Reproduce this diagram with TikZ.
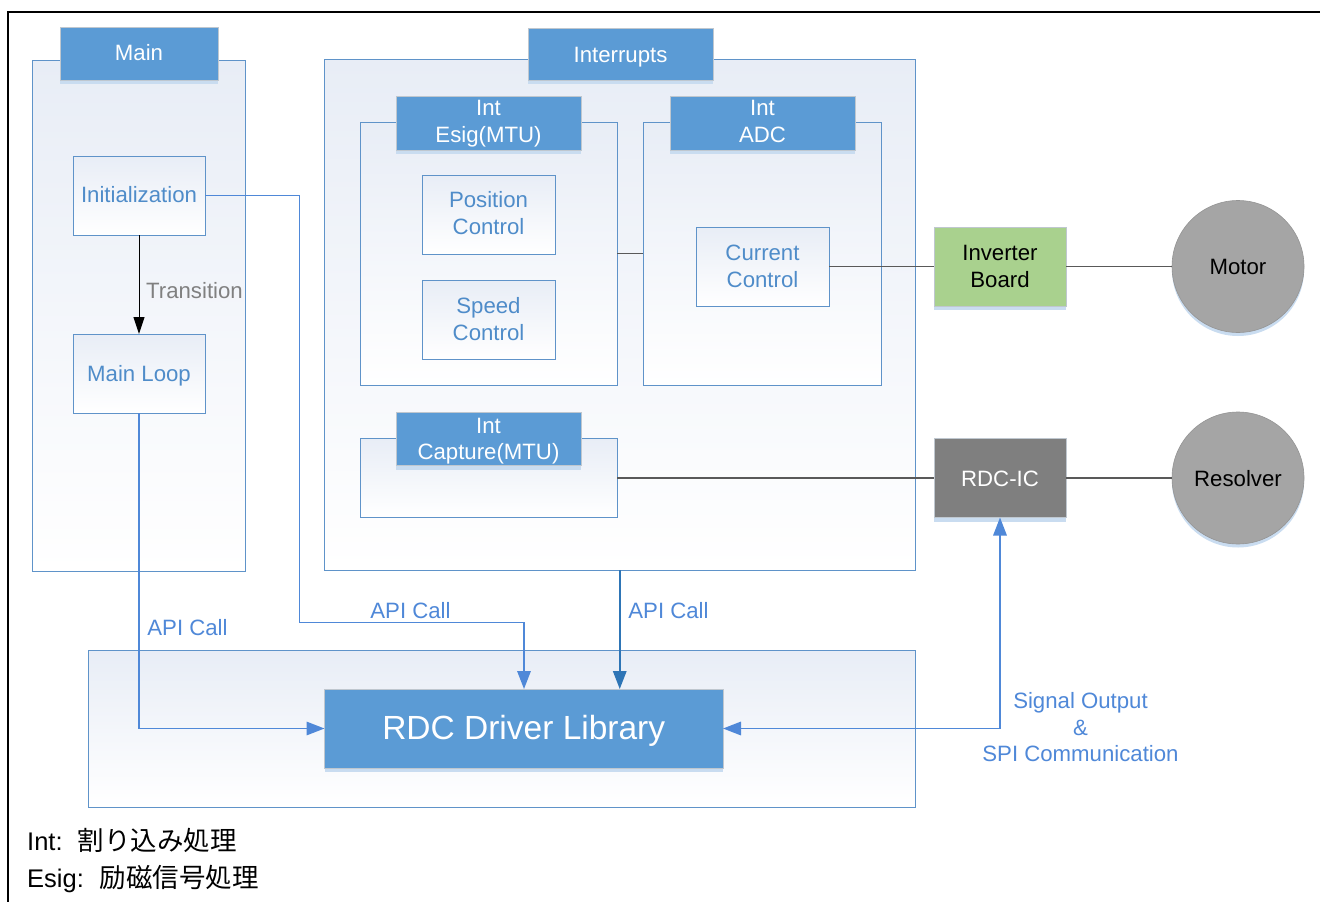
\documentclass[tikz,border=0pt]{standalone}
\usepackage{fontspec}
\setmainfont{Liberation Sans}
\newfontfamily\cjk{Noto Sans CJK JP}
\usetikzlibrary{arrows.meta,shadows,calc}
\definecolor{hdrblue}{HTML}{5B9BD5}
\definecolor{shadowblue}{HTML}{C9DCF0}
\definecolor{boxline}{HTML}{5F93C9}
\definecolor{gradtop}{HTML}{E8EDF6}
\definecolor{labelblue}{HTML}{4F88D8}
\definecolor{innertext}{HTML}{4F8CC9}
\definecolor{darkarrow}{HTML}{2E75B6}
\definecolor{invgreen}{HTML}{A9D18E}
\definecolor{rdcgray}{HTML}{7F7F7F}
\definecolor{motorgray}{HTML}{A5A5A5}
\definecolor{edgegray}{HTML}{BFC7CF}
\definecolor{wireline}{HTML}{595959}
% text with its last baseline placed at a given distance from the node centre
\newcommand{\tx}[2]{\raisebox{#1}[0pt][0pt]{\begin{tabular}[b]{@{}c@{}}#2\end{tabular}}}
\tikzset{
  boxfont/.style={font=\fontsize{22.2}{26.5}\selectfont},
  outerbox/.style={draw=boxline,line width=1pt,top color=gradtop,bottom color=white,inner sep=0pt,outer sep=0pt},
  innerbox/.style={outerbox,text=innertext,boxfont},
  softshadow/.style={general shadow={shadow xshift=0pt,shadow yshift=-4pt,fill=shadowblue}},
  header/.style={draw=edgegray,line width=1pt,fill=hdrblue,text=white,boxfont,inner sep=0pt,outer sep=0pt,softshadow},
  device/.style={draw=edgegray,line width=1pt,boxfont,inner sep=0pt,outer sep=0pt,softshadow},
  disc/.style={circle,draw=motorgray!90!black,line width=0.6pt,fill=motorgray,minimum size=132pt,inner sep=0pt,outer sep=0pt,text=black,boxfont,general shadow={shadow xshift=0pt,shadow yshift=-3.5pt,fill=shadowblue}},
  apilabel/.style={text=labelblue,boxfont,align=center,inner sep=0pt},
  apiline/.style={draw=labelblue,line width=1.6pt},
  apiarrow/.style={apiline,-{Triangle[length=18pt,width=13.5pt]}},
  wire/.style={draw=wireline,line width=1.1pt},
  notefont/.style={anchor=base west,inner sep=0pt,font=\fontsize{25.5}{30}\selectfont},
}
\begin{document}
\begin{tikzpicture}[x=1pt,y=-1pt]
\useasboundingbox (0,0) rectangle (1320,902);
\fill[white] (0,0) rectangle (1320,902);
\draw[black,line width=2pt] (8,902) -- (8,12) -- (1320,12);

% Main column
\node[outerbox,minimum width=213pt,minimum height=511.5pt] (mainbox) at (139,315.75) {};
\node[header,minimum width=158pt,minimum height=53pt] (mainhdr) at (139,53.5) {\tx{-7pt}{Main}};
\node[innerbox,minimum width=132pt,minimum height=79pt] (init) at (139,195.5) {\tx{-7pt}{Initialization}};
\node[innerbox,minimum width=132pt,minimum height=79pt] (loop) at (139,373.5) {\tx{-7.5pt}{Main Loop}};

% Interrupts
\node[outerbox,minimum width=590.5pt,minimum height=511pt] (intr) at (619.75,314.5) {};
\node[header,minimum width=185pt,minimum height=52pt] (intrhdr) at (620.5,54) {\tx{-8pt}{Interrupts}};

\node[outerbox,minimum width=257pt,minimum height=263pt] (esig) at (488.5,253.5) {};
\node[header,minimum width=185pt,minimum height=54pt] (esighdr) at (488.5,123) {\tx{-19pt}{Int\\Esig(MTU)}};
\node[innerbox,minimum width=133pt,minimum height=79pt] (pos) at (488.5,214.5) {\tx{-19.5pt}{Position\\Control}};
\node[innerbox,minimum width=133pt,minimum height=79pt] (speed) at (488.5,319.5) {\tx{-20.5pt}{Speed\\Control}};

\node[outerbox,minimum width=238pt,minimum height=263pt] (adc) at (762,253.5) {};
\node[header,minimum width=185pt,minimum height=54pt] (adchdr) at (762.5,123) {\tx{-19pt}{Int\\ADC}};
\node[innerbox,minimum width=133pt,minimum height=79pt] (cur) at (762.5,266.5) {\tx{-20.5pt}{Current\\Control}};

\node[outerbox,minimum width=257pt,minimum height=79pt] (cap) at (488.5,478) {};
\node[header,minimum width=185pt,minimum height=53pt] (caphdr) at (488.5,439) {\tx{-20.5pt}{Int\\Capture(MTU)}};

% Devices
\node[device,fill=invgreen,text=black,minimum width=132pt,minimum height=79pt] (inv) at (1000,266.5) {\tx{-20.5pt}{Inverter\\Board}};
\node[device,fill=rdcgray,text=white,minimum width=132pt,minimum height=79pt] (rdc) at (1000,478) {\tx{-8pt}{RDC-IC}};
\node[disc] (motor) at (1238,266.5) {\tx{-8pt}{Motor}};
\node[disc] (res) at (1238,478) {\tx{-8pt}{Resolver}};

% Library
\node[outerbox,minimum width=827pt,minimum height=157pt] (libbox) at (501.5,728.5) {};
\node[header,minimum width=398.5pt,minimum height=79pt,font=\fontsize{33.5}{38}\selectfont] (lib) at (523.75,728.5) {\tx{-10.5pt}{RDC Driver Library}};

% Connectors
\coordinate (initturn) at (299.5,195.5);
\coordinate (initdrop) at (524,622.5);
\draw[apiarrow] (init.east) -- (initturn) |- (initdrop) -- (initdrop |- lib.north);
\draw[apiarrow] (loop.south) |- (lib.west);
\draw[apiarrow,draw=darkarrow] (intr.south) -- (intr.south |- lib.north);
\draw[apiline,{Triangle[length=18pt,width=13.5pt]}-{Triangle[length=18pt,width=13.5pt]}] (lib.east) -| (rdc.south);
\draw[black,line width=1pt,-{Triangle[length=17pt,width=11pt]}] (init.south) -- (loop.north);
\draw[wire] (esig.east) -- (adc.west);
\draw[wire] (cur.east) -- (inv.west);
\draw[wire] (inv.east) -- (motor.west);
\draw[wire] (cap.east) -- (rdc.west);
\draw[wire] (rdc.east) -- (res.west);

% Labels
\node[text=black!50,boxfont,inner sep=0pt] (trans) at (194.5,290.5) {Transition};
\node[apilabel] (api1) at (187.5,627.5) {API Call};
\node[apilabel] (api2) at (410.5,610.5) {API Call};
\node[apilabel] (api3) at (668.5,610.5) {API Call};
\node[apilabel] (sig) at (1080.5,727.5) {Signal Output\\\&\\SPI Communication};

\node[notefont] (note1) at (27,850) {Int:\hspace{15pt}{\cjk\fontsize{26.5}{30}\selectfont 割り込み処理}};
\node[notefont] (note2) at (27,887) {Esig:\hspace{16pt}{\cjk\fontsize{26.5}{30}\selectfont 励磁信号処理}};
\end{tikzpicture}
\end{document}
